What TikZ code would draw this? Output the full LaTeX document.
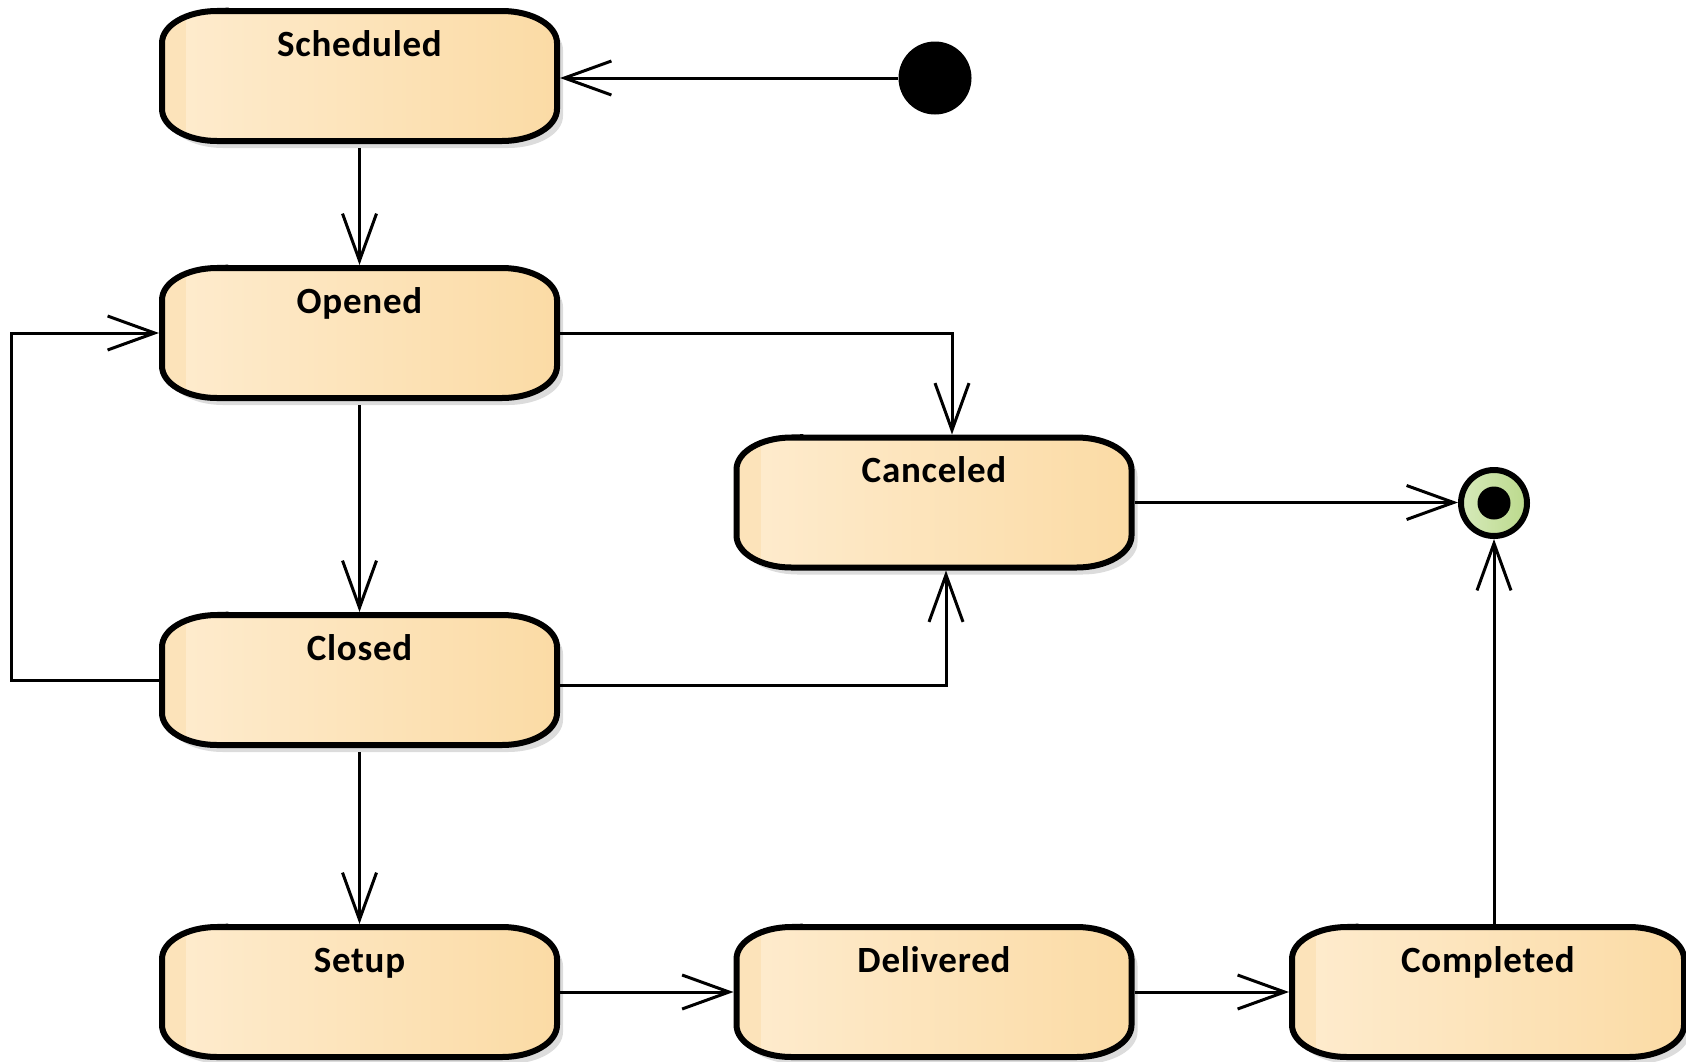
\documentclass[tikz,border=0pt]{standalone}
\usepackage{fontspec}
\setmainfont{Carlito}[LetterSpace=2]
\usetikzlibrary{arrows.meta,shadows,calc,backgrounds}
\definecolor{stL}{HTML}{FEECCF}
\definecolor{stR}{HTML}{FBDBA5}
\definecolor{stS}{HTML}{FCE3BA}
\definecolor{fnL}{HTML}{D6EABA}
\definecolor{fnR}{HTML}{BBD98C}
\definecolor{shd}{HTML}{DCDCDC}
\tikzset{
  state/.style={draw=none, outer sep=3bp,
    minimum width=395bp, minimum height=130bp, inner sep=0pt,
    text height=23.4bp, text depth=63.4bp,
    font=\fontsize{37bp}{42bp}\selectfont\bfseries},
  boxfill/.style={left color=stL, right color=stR,
    drop shadow={shadow xshift=6bp, shadow yshift=-7bp, fill=shd, opacity=1}},
  boxline/.style={draw=black, line width=6bp},
  conn/.style={line width=3bp, -{Straight Barb[length=47bp, width=34bp]}},
}
\begin{document}
\begin{tikzpicture}[x=1bp,y=-1bp]
\useasboundingbox (0,0) rectangle (1686,1061);
\node[state] (sched) at (359.5,76) {Scheduled};
\node[state] (opened) at (359.5,333) {Opened};
\node[state] (closed) at (359.5,680) {Closed};
\node[state] (setup) at (359.5,992) {Setup};
\node[state] (canceled) at (934,502.5) {Canceled};
\node[state] (delivered) at (934,992) {Delivered};
\node[state, minimum width=392bp] (completed) at (1488,992) {Completed};
\node[circle, fill=black, minimum size=73bp, inner sep=0pt] (init) at (935,78) {};
\node[circle, draw=black, line width=6bp, minimum size=66bp, inner sep=0pt,
  left color=fnL, right color=fnR] (final) at (1494,503) {};
\fill[black] (final.center) circle (16.5bp);

\begin{scope}[on background layer]
\foreach \n/\w in {sched/197.5, opened/197.5, closed/197.5, setup/197.5,
                   canceled/197.5, delivered/197.5, completed/196}{
  \def\boxpath{($(\n.center)+({-\w+55},-65)$) -- ($(\n.center)+({\w-55},-65)$)
    arc[start angle=90, end angle=0, x radius=55bp, y radius=32bp]
    -- ($(\n.center)+(\w,33)$)
    arc[start angle=0, end angle=-90, x radius=55bp, y radius=32bp]
    -- ($(\n.center)+({-\w+55},65)$)
    arc[start angle=-90, end angle=-180, x radius=55bp, y radius=32bp]
    -- ($(\n.center)+(-\w,-33)$)
    arc[start angle=180, end angle=90, x radius=55bp, y radius=32bp] -- cycle}
  \path[boxfill] \boxpath;
  \begin{scope}
    \clip \boxpath;
    \fill[stS] ($(\n.center)+(-\w,-70)$) rectangle ($(\n.center)+({-\w+24},70)$);
  \end{scope}
  \path[boxline] \boxpath;
}
\end{scope}

\draw[conn] (init.west) -- (init.west -| sched.east);
\draw[conn, shorten <=4bp] (sched.south) -- (opened.north);
\draw[conn, shorten <=4bp] (opened.south) -- (closed.north);
\draw[conn, shorten <=4bp] (closed.south) -- (setup.north);
\draw[conn] (opened.east) -| ([xshift=18bp]canceled.north);
\draw[conn] ([yshift=-5bp]closed.east) -| ([xshift=12bp]canceled.south);
\draw[conn] (closed.west) -- ++(-147,0) |- (opened.west);
\draw[conn] (setup.east) -- (delivered.west);
\draw[conn] (delivered.east) -- (completed.west);
\draw[conn] (canceled.east) -- (canceled.east -| final.west);
\draw[conn] (final.south |- completed.north) -- (final.south);
\end{tikzpicture}
\end{document}
